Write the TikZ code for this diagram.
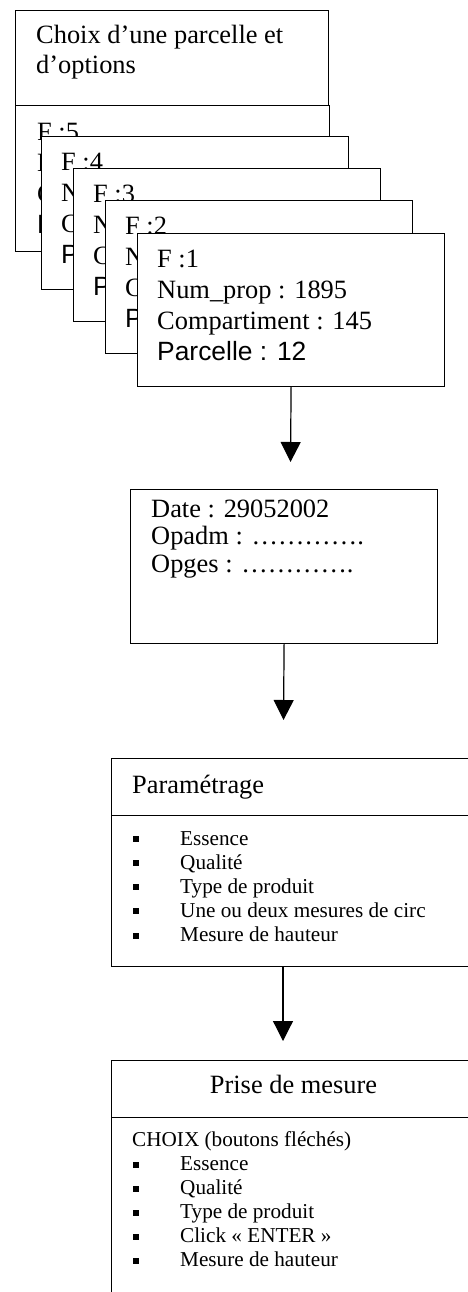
\documentclass[tikz,border=0pt]{standalone}
\usepackage{fontspec}
\setmainfont{Liberation Serif}
\setsansfont{Liberation Sans}
\usetikzlibrary{arrows.meta}
\newcommand{\sqb}{\makebox[47pt][l]{\raisebox{3.3pt}{\rule{6pt}{6pt}}}}
\newcommand{\fourdots}{\char"2026\char"2026\char"2026\char"2026.}
\tikzset{
  box/.style={draw, line width=1.2pt, fill=white, inner sep=0pt, anchor=north west},
  txt/.style={anchor=north west, inner sep=0pt, align=left},
  big/.style={font=\fontsize{26.4}{31}\selectfont},
  small/.style={font=\fontsize{21.2}{24.2}\selectfont},
  arr/.style={line width=1.2pt, -{Triangle[length=20pt,width=20pt]}}
}
\newcommand{\cardtext}[1]{\strut F :#1\\Num\_prop : 1895\\Compartiment : 145\\{\sffamily Parcelle : 12}}
\begin{document}
\begin{tikzpicture}[x=1pt,y=-1pt]
\useasboundingbox (0,0) rectangle (468,1292);
\clip (0,0) rectangle (468,1292);
% top box
\node[box, minimum width=313pt, minimum height=95pt] (top) at (15,10) {};
\node[txt, font=\fontsize{26.4}{30}\selectfont] (toptxt) at (36,22) {\strut Choix d’une parcelle et\\d’options};
% cards
\node[box, minimum width=314pt, minimum height=146pt] (c5) at (15,105) {};
\node[txt, big] (t5) at (37,118.3) {\cardtext{5}};
\node[box, minimum width=307pt, minimum height=153pt] (c4) at (41,136) {};
\node[txt, big] (t4) at (61,148.8) {\cardtext{4}};
\node[box, minimum width=307pt, minimum height=153pt] (c3) at (73,168) {};
\node[txt, big] (t3) at (93,180.8) {\cardtext{3}};
\node[box, minimum width=307pt, minimum height=153pt] (c2) at (105,200) {};
\node[txt, big] (t2) at (125,212.8) {\cardtext{2}};
\node[box, minimum width=307pt, minimum height=153pt] (c1) at (137,232.5) {};
\node[txt, big] (t1) at (157,245.3) {\cardtext{1}};
% date box
\node[box, minimum width=307pt, minimum height=154pt] (date) at (130,489) {};
\node[txt, font=\fontsize{26.4}{27.5}\selectfont] (datetxt) at (151,497.75) {\strut Date : 29052002\\Opadm : \fourdots\\Opges : \fourdots};
% parametrage
\node[box, minimum width=400pt, minimum height=57pt] (phead) at (111,758) {};
\node[anchor=base west, inner sep=0pt, font=\fontsize{26.4}{31}\selectfont] (pheadtxt) at (132,793) {Paramétrage};
\node[box, minimum width=400pt, minimum height=151pt] (pbody) at (111,815) {};
\node[txt, small] (pbodytxt) at (133,828) {\strut\sqb Essence\\\sqb Qualité\\\sqb Type de produit\\\sqb Une ou deux mesures de circ\\\sqb Mesure de hauteur};
% prise de mesure
\node[box, minimum width=400pt, minimum height=57pt] (mhead) at (111,1060) {};
\node[anchor=base, inner sep=0pt, font=\fontsize{26.4}{31}\selectfont] (mheadtxt) at (293.5,1093) {Prise de mesure};
\node[box, minimum width=400pt, minimum height=260pt] (mbody) at (111,1117) {};
\node[txt, font=\fontsize{21.2}{24}\selectfont] (mbodytxt) at (132,1129.9) {\strut CHOIX (boutons fléchés)\\\hspace{1pt}\sqb Essence\\\hspace{1pt}\sqb Qualité\\\hspace{1pt}\sqb Type de produit\\\hspace{1pt}\sqb Click « ENTER »\\\hspace{1pt}\sqb Mesure de hauteur};
% arrows
\coordinate (a1) at (290.5,462);
\coordinate (a2) at (283.5,720);
\coordinate (a3) at (283,1041);
\draw[arr] (c1.south) -- (a1);
\draw[arr] (date.south) -- (a2);
\draw[arr] (pbody.south -| a3) -- (a3);
\end{tikzpicture}
\end{document}
